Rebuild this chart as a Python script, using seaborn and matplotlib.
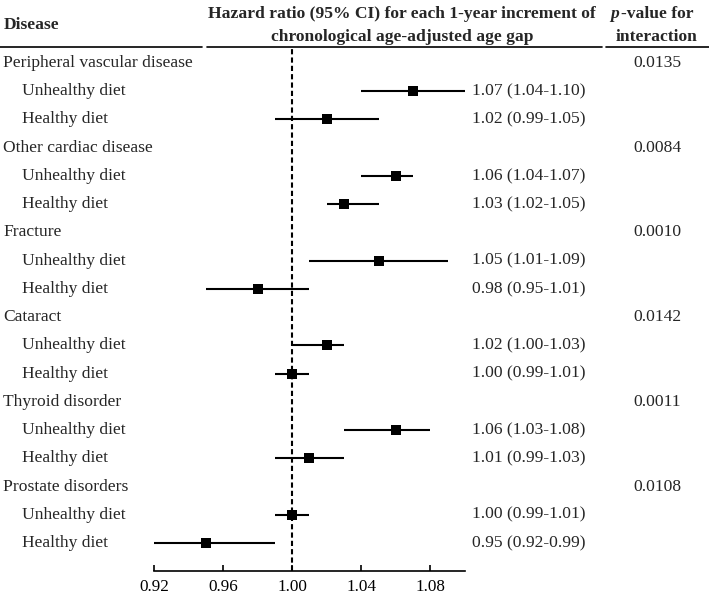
import seaborn as sns
import matplotlib.pyplot as plt
import matplotlib.transforms as mtransforms
from matplotlib.lines import Line2D
import pandas as pd

diseases = ['Peripheral vascular disease', 'Other cardiac disease', 'Fracture',
            'Cataract', 'Thyroid disorder', 'Prostate disorders']
p_values = ['0.0135', '0.0084', '0.0010', '0.0142', '0.0011', '0.0108']
groups = ['Unhealthy diet', 'Healthy diet']

hr_unhealthy = [1.07, 1.06, 1.05, 1.02, 1.06, 1.00]
lo_unhealthy = [1.04, 1.04, 1.01, 1.00, 1.03, 0.99]
hi_unhealthy = [1.10, 1.07, 1.09, 1.03, 1.08, 1.01]
hr_healthy = [1.02, 1.03, 0.98, 1.00, 1.01, 0.95]
lo_healthy = [0.99, 1.02, 0.95, 0.99, 0.99, 0.92]
hi_healthy = [1.05, 1.05, 1.01, 1.01, 1.03, 0.99]

xticks = [0.92, 0.96, 1.00, 1.04, 1.08]

# one row per subgroup, disease headers take their own row
rows = []
for i, d in enumerate(diseases):
    base = i * 3
    rows.append({'disease': d, 'group': groups[0], 'row': base + 1,
                 'hr': hr_unhealthy[i], 'lo': lo_unhealthy[i], 'hi': hi_unhealthy[i]})
    rows.append({'disease': d, 'group': groups[1], 'row': base + 2,
                 'hr': hr_healthy[i], 'lo': lo_healthy[i], 'hi': hi_healthy[i]})
df = pd.DataFrame(rows)

sns.set_style('white')
plt.rcParams['font.family'] = ['Liberation Serif', 'DejaVu Serif']

W, H = 709, 604
fig = plt.figure(figsize=(W / 100, H / 100), dpi=100)

def px(x):
    return x / W

def py(y):
    return 1 - y / H

top_px, bot_px = 46.7, 571
row0, step = 63, 28.24
ax = fig.add_axes([px(154), py(bot_px), px(465) - px(154), py(top_px) - py(bot_px)])

ax.hlines(df['row'], df['lo'], df['hi'], color='black', lw=1.5, zorder=2)
sns.scatterplot(data=df, x='hr', y='row', marker='s', color='black', s=48,
                edgecolor='black', linewidth=0, zorder=3, ax=ax, legend=False)
ax.axvline(1.0, color='black', lw=1.5, ls=(0, (2.5, 1.5)), zorder=1)

ax.set_xlim(0.92, 1.10)
ax.set_ylim((bot_px - row0) / step, (top_px - row0) / step)
ax.set_xticks(xticks)
ax.set_xticklabels([f'{t:.2f}' for t in xticks], fontsize=12.3)
ax.set_yticks([])
ax.set_xlabel('')
ax.set_ylabel('')
for s in ['left', 'right', 'top']:
    ax.spines[s].set_visible(False)
ax.spines['bottom'].set_linewidth(1.2)
ax.spines['bottom'].set_color('black')
ax.tick_params(axis='x', direction='in', length=4, width=1.2, pad=6, colors='black',
               bottom=True)

fs = 12.6
trans = mtransforms.blended_transform_factory(fig.transFigure, ax.transData)
for i, d in enumerate(diseases):
    ax.text(px(3), i * 3, d, transform=trans, ha='left', va='center', fontsize=fs)
    ax.text(px(657), i * 3, p_values[i], transform=trans, ha='center', va='center', fontsize=fs)
for _, r in df.iterrows():
    ax.text(px(22), r['row'], r['group'], transform=trans, ha='left', va='center', fontsize=fs)
    ax.text(px(472), r['row'], f"{r['hr']:.2f} ({r['lo']:.2f}-{r['hi']:.2f})",
            transform=trans, ha='left', va='center', fontsize=fs)

# header
fig.text(px(4), py(25), 'Disease', ha='left', va='center', fontsize=fs, fontweight='bold')
fig.text(px(402), py(14), 'Hazard ratio (95% CI) for each 1-year increment of',
         ha='center', va='center', fontsize=fs, fontweight='bold')
fig.text(px(402), py(37), 'chronological age-adjusted age gap',
         ha='center', va='center', fontsize=fs, fontweight='bold')
fig.text(px(610), py(14), 'p', ha='left', va='center', fontsize=fs,
         fontweight='bold', fontstyle='italic')
fig.text(px(621), py(14), '-value for', ha='left', va='center', fontsize=fs, fontweight='bold')
fig.text(px(657), py(37), 'interaction', ha='center', va='center', fontsize=fs, fontweight='bold')

for x0, x1 in [(0, 202), (207, 602), (606, 709)]:
    fig.add_artist(Line2D([px(x0), px(x1)], [py(top_px), py(top_px)],
                          transform=fig.transFigure, color='black', lw=1.2))

fig.savefig('out.png', dpi=100)
